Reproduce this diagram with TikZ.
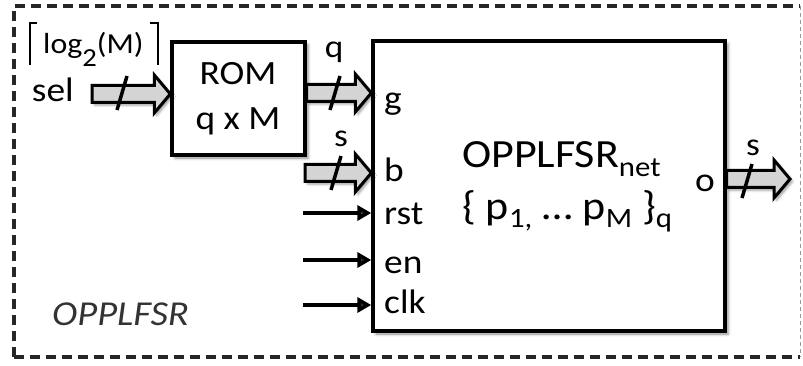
\documentclass[tikz,border=0pt]{standalone}
\usepackage{fontspec}
\setmainfont[FakeStretch=1.1]{Carlito}
\usetikzlibrary{arrows.meta,calc,shadows.blur}
\newcommand\sbs[2][9pt]{\raisebox{-#1}{\fontsize{28}{28}\selectfont #2}}
\newcommand\fatarrow[2]{%
  \path[fat] let \p1=(#1), \p2=(#2) in
  (\x1,\y1+8.5pt) -- (\x2-16pt,\y1+8.5pt) -- (\x2-16pt,\y1+19pt) -- (\x2,\y1)
  -- (\x2-16pt,\y1-19pt) -- (\x2-16pt,\y1-8.5pt) -- (\x1,\y1-8.5pt) -- cycle;}
\tikzset{
  box/.style={draw, line width=3.4pt, fill=white, inner sep=0pt,
    blur shadow={shadow xshift=3pt, shadow yshift=-3pt, shadow blur radius=3pt, shadow opacity=45}},
  fat/.style={draw, line width=3pt, fill=black!17, line join=miter,
    blur shadow={shadow xshift=2.5pt, shadow yshift=-2.5pt, shadow blur radius=2.5pt, shadow opacity=40}},
  thinarrow/.style={line width=4.5pt, -{Triangle[length=14pt,width=15pt]}},
  slash/.style={line width=3.5pt},
  lab/.style={font=\fontsize{34}{38}\selectfont, inner sep=0pt, anchor=base west},
  clab/.style={font=\fontsize{32}{36}\selectfont, inner sep=0pt, anchor=base},
  frame/.style={line width=3.4pt, dash pattern=on 10pt off 6pt, black!85},
}
\begin{document}
\begin{tikzpicture}[x=1pt,y=-1pt]
\useasboundingbox (0,0) rectangle (803,366);
% outer dashed frame
\draw[frame] (14,357) -- (14,6) -- (800,6);
\draw[frame] (14,357) -- (800,357);
\draw[black!40, line width=1pt, dash pattern=on 4pt off 3pt] (800,6) -- (800,357);
\node[inner sep=0pt, anchor=base west, font=\fontsize{35}{40}\selectfont\itshape, text=black!80] (title) at (52,325) {OPPLFSR};

% boxes
\node[box, minimum width=133pt, minimum height=113pt] (rom) at (238.5,98.5) {};
\node[box, minimum width=352pt, minimum height=290pt] (net) at (549,186) {};

% ROM text
\node[inner sep=0pt, anchor=base, font=\fontsize{34}{40}\selectfont] (romt) at (238,85) {ROM};
\node[inner sep=0pt, anchor=base, font=\fontsize{34}{40}\selectfont] (romq) at (238,130) {q x M};

% sel input
\node[lab, anchor=base east] (sel) at (74,102) {sel};
\node[inner sep=0pt, anchor=base west, font=\fontsize{29}{32}\selectfont] (logm) at (43,54) {log\raisebox{-13pt}{\fontsize{26}{26}\selectfont 2}(M)};
\draw[line width=1.6pt] (37,23) -- (30,23) -- (30,65);
\draw[line width=1.6pt] (150,23) -- (158,23) -- (158,65);
\coordinate (selS) at (92,94);
\fatarrow{selS}{rom.west |- selS}
\draw[slash] (117,110) -- (127,76);

% g input
\coordinate (gS) at (rom.east |- 0,93);
\fatarrow{gS}{net.west |- gS}
\draw[slash] (330,110) -- (340,76);
\node[clab] (qlab) at (334,58) {q};

% b input
\coordinate (bS) at (305,173);
\fatarrow{bS}{net.west |- bS}
\draw[slash] (331,190) -- (341,156);
\node[clab] (slab) at (341,147) {s};

% control inputs
\coordinate (rstS) at (303,213);
\coordinate (enS) at (303,260);
\coordinate (clkS) at (303,305);
\draw[thinarrow] (rstS) -- (net.west |- rstS);
\draw[thinarrow] (enS) -- (net.west |- enS);
\draw[thinarrow] (clkS) -- (net.west |- clkS);

% port labels
\node[lab] (gl) at (384,110) {g};
\node[lab] (bl) at (384,182) {b};
\node[lab] (rl) at (384,225) {rst};
\node[lab] (el) at (384,273) {en};
\node[lab] (cl) at (384,313) {clk};
\node[lab] (ol) at (695,192) {o};

% center text
\node[inner sep=0pt, anchor=base west, font=\fontsize{40}{44}\selectfont] (nm) at (462,168) {OPPLFSR\sbs{net}};
\node[inner sep=0pt, anchor=base west, font=\fontsize{40}{44}\selectfont] (pp) at (462,219) {\{ p\sbs{1,} … p\sbs{M} \}\sbs{q}};

% output
\coordinate (oE) at (790,179);
\fatarrow{net.east |- oE}{oE}
\draw[slash] (742,198) -- (752,164);
\node[clab] (solab) at (753,156) {s};
\end{tikzpicture}
\end{document}
